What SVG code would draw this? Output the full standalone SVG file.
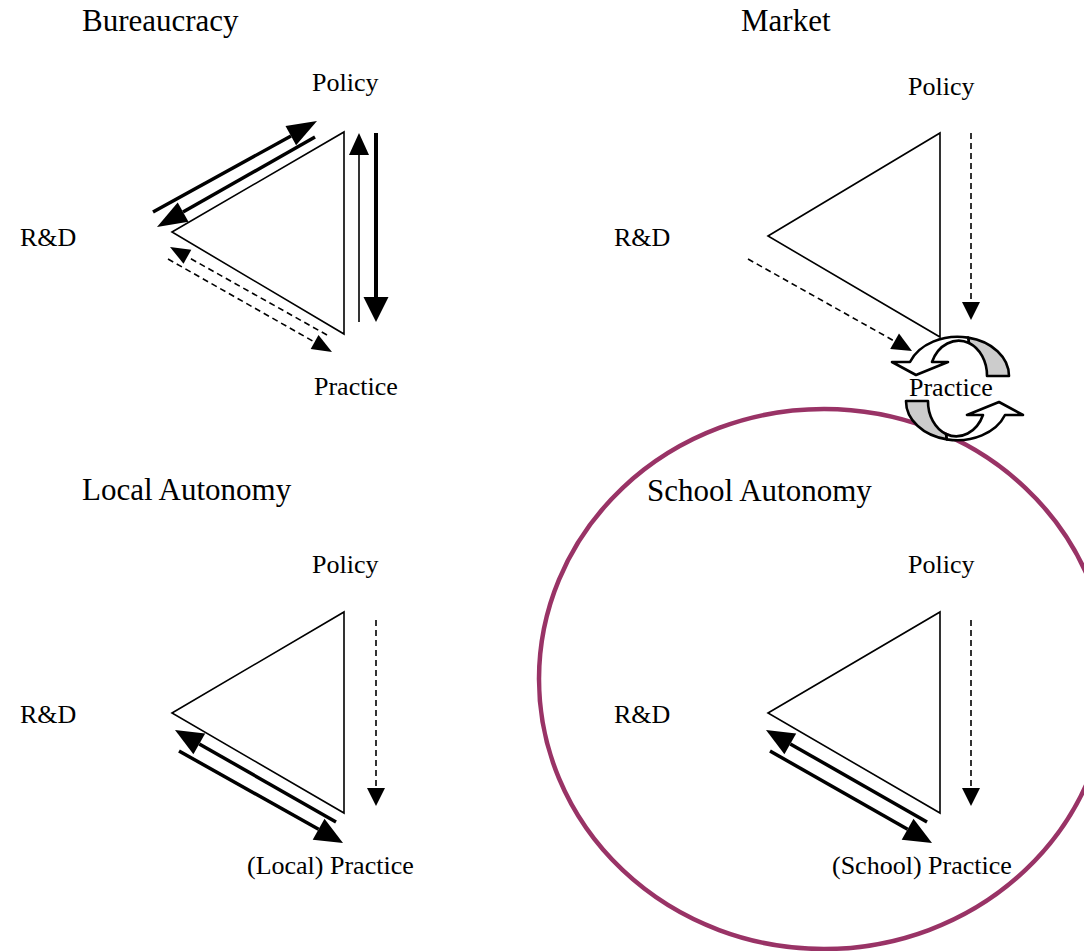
<svg xmlns="http://www.w3.org/2000/svg" width="1084" height="951" viewBox="0 0 1084 951">
<style>
text{font-family:"Liberation Serif","Times New Roman",serif;fill:#000}
.h{font-size:31px}
.l{font-size:26px}
.tri{fill:none;stroke:#000;stroke-width:1.6}
.thick{stroke:#000;stroke-width:3.5;fill:none}
.thin{stroke:#000;stroke-width:1.6;fill:none}
.dash{stroke:#000;stroke-width:1.6;fill:none;stroke-dasharray:6 4}
.head{fill:#000;stroke:none}
.cyc{stroke:#000;stroke-width:2.6;stroke-linejoin:round}
</style>
<rect width="1084" height="951" fill="#fff"/>
<ellipse id="focus-circle" cx="824" cy="679" rx="285" ry="270" fill="none" stroke="#993366" stroke-width="4.5"/>

<g id="bureaucracy">
<text class="h" x="82" y="31">Bureaucracy</text>
<text class="l" x="312" y="91">Policy</text>
<text class="l" x="20" y="246">R&amp;D</text>
<text class="l" x="314" y="395">Practice</text>
<polygon class="tri" points="172,232 344,132 344,334"/>
</g>
<g id="market">
<text class="h" x="741" y="31">Market</text>
<text class="l" x="908" y="95">Policy</text>
<text class="l" x="614" y="246">R&amp;D</text>
<polygon class="tri" points="768,236 940,133 940,337"/>
</g>
<g id="local-autonomy">
<text class="h" x="82" y="500">Local Autonomy</text>
<text class="l" x="312" y="573">Policy</text>
<text class="l" x="20" y="723">R&amp;D</text>
<text class="l" x="247" y="874">(Local) Practice</text>
<polygon class="tri" points="172,713 344,612 344,813"/>
</g>
<g id="school-autonomy">
<text class="h" x="647" y="501">School Autonomy</text>
<text class="l" x="908" y="573">Policy</text>
<text class="l" x="614" y="723">R&amp;D</text>
<text class="l" x="832" y="874">(School) Practice</text>
<polygon class="tri" points="768,713 940,612 940,813"/>
</g>

<g id="connectors">
<!-- Bureaucracy -->
<line class="thick" x1="153" y1="212" x2="291" y2="136"/>
<polygon class="head" points="317,121 296.1,145.2 285.5,126"/>
<line class="thick" x1="315" y1="137" x2="183" y2="212"/>
<polygon class="head" points="157,227 177.7,202.5 188.5,221.7"/>
<line class="thin" x1="359" y1="322" x2="359" y2="155"/>
<polygon class="head" points="359,133 349,155 369,155"/>
<line class="thick" x1="376" y1="133" x2="376" y2="298" style="stroke-width:4"/>
<polygon class="head" points="376,322 363.5,297 388.5,297"/>
<line class="dash" x1="327" y1="335" x2="187.4" y2="256.8"/>
<polygon class="head" points="170,247 191.3,249.8 183.5,263.8"/>
<line class="dash" x1="168" y1="259" x2="314.6" y2="342.1"/>
<polygon class="head" points="332,352 310.7,349.1 318.5,335.1"/>
<!-- Market -->
<line class="dash" x1="971" y1="133" x2="971" y2="302"/>
<polygon class="head" points="971,320 962,302 980,302"/>
<line class="dash" x1="748" y1="259" x2="894.6" y2="341.2"/>
<polygon class="head" points="912,351 890.2,349 899,333.4"/>
<!-- Local Autonomy -->
<line class="thick" x1="336" y1="822" x2="199.3" y2="743.9"/>
<polygon class="head" points="175,730 205.2,733.5 193.4,754.3"/>
<line class="thick" x1="179" y1="751" x2="318.6" y2="829.3"/>
<polygon class="head" points="343,843 312.7,839.8 324.5,818.8"/>
<line class="dash" x1="376" y1="620" x2="376" y2="788"/>
<polygon class="head" points="376,806 367,788 385,788"/>
<!-- School Autonomy -->
<line class="thick" x1="927" y1="822" x2="790.3" y2="743.9"/>
<polygon class="head" points="766,730 796.2,733.5 784.4,754.3"/>
<line class="thick" x1="770" y1="751" x2="907.6" y2="829.3"/>
<polygon class="head" points="932,843 901.7,839.8 913.5,818.8"/>
<line class="dash" x1="971" y1="620" x2="971" y2="788"/>
<polygon class="head" points="971,806 962,788 980,788"/>
</g>

<g id="market-cycle">
<defs>
<g id="cyc-half">
<path class="cyc" fill="#cccccc" d="M968,337.6 A51 39 0 0 1 1009,376 L987,376 A29 35 0 0 0 969,343 Z"/>
<path class="cyc" fill="#ffffff" d="M968,337.6 A51 39 0 0 0 910,362 L892,362 L916,375 L948,362 L932,362 A29 35 0 0 1 969,343 Z"/>
</g>
</defs>
<use href="#cyc-half"/>
<use href="#cyc-half" transform="rotate(180 957.5 388.5)"/>
<text class="l" x="909" y="396">Practice</text>
</g>
</svg>
